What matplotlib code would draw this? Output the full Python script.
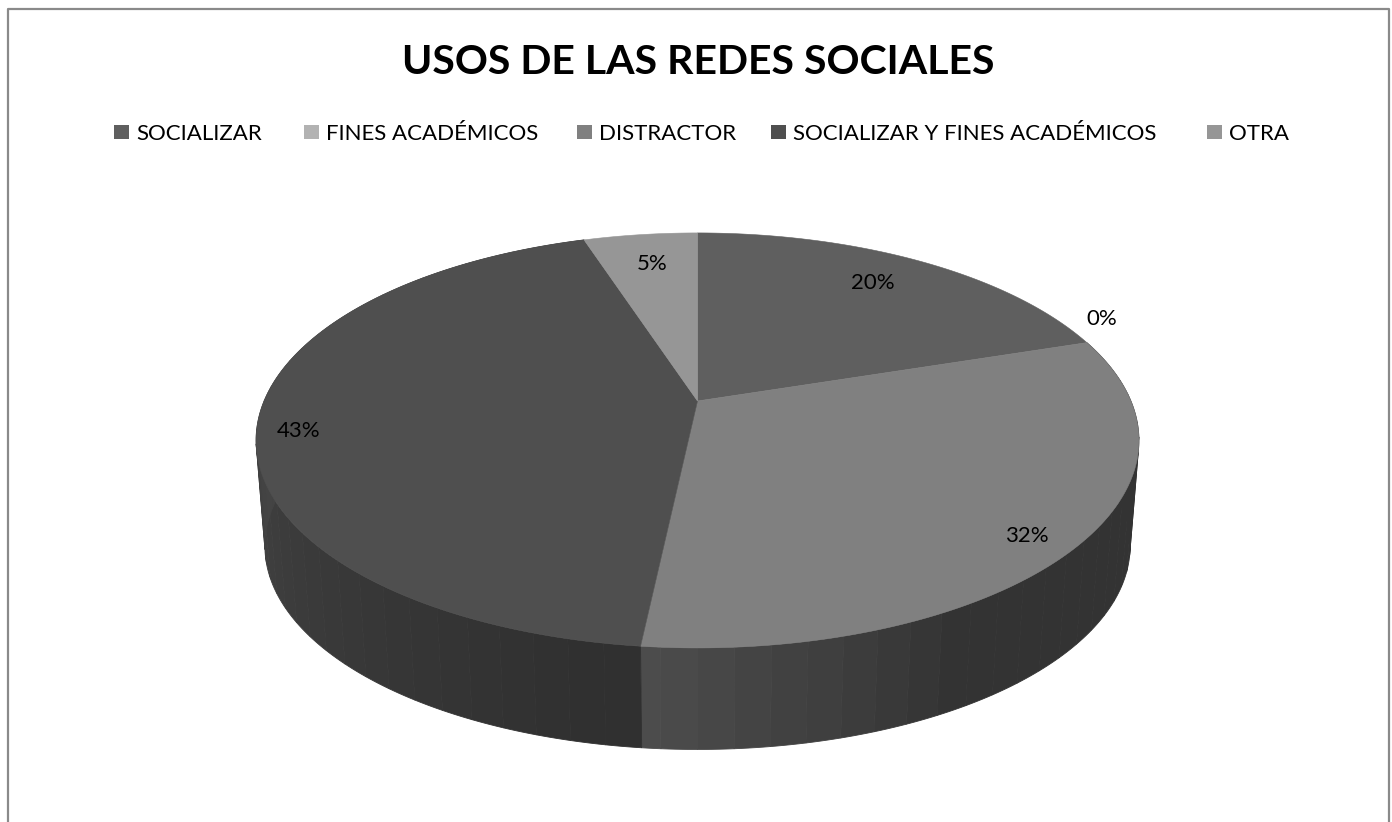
import numpy as np
from matplotlib import pyplot as plt
from matplotlib.patches import Rectangle

title = "USOS DE LAS REDES SOCIALES"
categories = ["SOCIALIZAR", "FINES ACADÉMICOS", "DISTRACTOR",
              "SOCIALIZAR Y FINES ACADÉMICOS", "OTRA"]
values = [20.0, 0.0, 31.7, 43.3, 5.0]
colors = ["#5f5f5f", "#b2b2b2", "#808080", "#4f4f4f", "#969696"]

# legend swatch left edges and label spots, in image pixels
legend_x = [114, 304, 577, 771, 1207]
label_pos = [(873, 283), (1102, 319), (1027, 536), (299, 431), (652, 264)]

# wall shading along the rim, per slice (angle in degrees, grey level)
wall_shades = {
    2: ([72, 150, 186], [0x33, 0x33, 0x4d]),
    3: ([186, 215, 270, 342], [0x2f, 0x36, 0x44, 0x48]),
}

# perspective pie model, fitted on the image
CX, CY = 697.5, 401
A, B, C = 433.4, 200, 0.19
WALL_Y, WALL_S = 507.5, 0.98


def rim(theta, y0=CY, s=1.0):
    t = np.radians(theta)
    u, v = np.sin(t), np.cos(t)
    d = 1 + C * v
    return CX + s * A * u / d, y0 - s * B * v / d


fig = plt.figure(figsize=(13.92, 8.22), dpi=100)
ax = fig.add_axes([0, 0, 1, 1])
ax.set_xlim(0, 1392)
ax.set_ylim(822, 0)
ax.axis("off")

# chart frame, cut off at the bottom
ax.plot([8, 8, 1389, 1389], [822, 9, 9, 822], color="#8a8a8a", lw=1.6)

ax.text(698, 62, title, ha="center", va="center", fontsize=29.5,
        fontweight="bold", family="Lato", color="black")

for i, name in enumerate(categories):
    ax.add_patch(Rectangle((legend_x[i], 125), 15, 14, fc=colors[i], ec="none"))
    ax.text(legend_x[i] + 22, 134, name, ha="left", va="center",
            fontsize=16, family="Lato", color="black")

edges = np.concatenate([[0], np.cumsum(values) / sum(values) * 360])

# side walls first, the top covers what is hidden
for i, (lo, hi) in enumerate(zip(edges[:-1], edges[1:])):
    if i not in wall_shades:
        continue
    steps = np.arange(lo, hi + 4, 4.0)
    steps[-1] = hi
    ang, grey = wall_shades[i]
    for a, b in zip(steps[:-1], steps[1:]):
        x1, y1 = rim(np.linspace(a, b, 6))
        x2, y2 = rim(np.linspace(b, a, 6), WALL_Y, WALL_S)
        g = np.interp((a + b) / 2, ang, grey) / 255
        ax.fill(np.r_[x1, x2], np.r_[y1, y2], color=(g, g, g), lw=0.6)

# top of the pie
for i, (lo, hi) in enumerate(zip(edges[:-1], edges[1:])):
    if hi <= lo:
        continue
    x, y = rim(np.linspace(lo, hi, 200))
    ax.fill(np.r_[CX, x], np.r_[CY, y], color=colors[i], lw=0.4)

for v, (px, py) in zip(values, label_pos):
    ax.text(px, py, "%d%%" % round(v), ha="center", va="center",
            fontsize=16, family="Lato", color="black")

fig.savefig("out.png", dpi=100)
